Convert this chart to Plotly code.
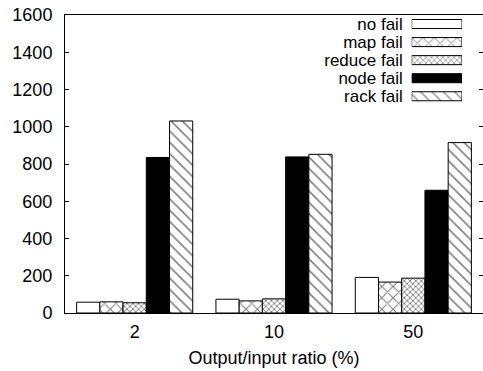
import plotly.graph_objects as go

categories = ["2", "10", "50"]
series_names = ["no fail", "map fail", "reduce fail", "node fail", "rack fail"]
no_fail = [58, 74, 191]
map_fail = [60, 65, 166]
reduce_fail = [55, 76, 187]
node_fail = [835, 838, 659]
rack_fail = [1031, 852, 915]
y_ticks = [0, 200, 400, 600, 800, 1000, 1200, 1400, 1600]

series_values = [no_fail, map_fail, reduce_fail, node_fail, rack_fail]
styles = [
    dict(color="white", pattern=dict(shape="")),
    dict(color="white", pattern=dict(shape="x", size=8, solidity=0.25, fgcolor="black", bgcolor="white")),
    dict(color="white", pattern=dict(shape="x", size=4, solidity=0.4, fgcolor="black", bgcolor="white")),
    dict(color="black", pattern=dict(shape="")),
    dict(color="white", pattern=dict(shape="\\", size=8, solidity=0.2, fgcolor="black", bgcolor="white")),
]

FONT = "Liberation Sans, Arial, sans-serif"
FS = 18
LFS = 17
fig = go.Figure()
for name, vals, st in zip(series_names, series_values, styles):
    fig.add_trace(go.Bar(
        x=categories, y=vals, name=name,
        marker=dict(color=st["color"], pattern=st["pattern"],
                    line=dict(color="black", width=1)),
        showlegend=False,
    ))

# legend drawn as horizontal sample bars on an auxiliary axis pair
legend_len = [1] * len(series_names)
fig.add_trace(go.Bar(
    x=legend_len, y=series_names, orientation="h",
    xaxis="x2", yaxis="y2", width=0.5, showlegend=False, hoverinfo="skip",
    marker=dict(
        color=[s["color"] for s in styles],
        pattern=dict(
            shape=[s["pattern"].get("shape", "") for s in styles],
            size=[s["pattern"].get("size", 8) for s in styles],
            solidity=[s["pattern"].get("solidity", 0.3) for s in styles],
            fgcolor="black", bgcolor=[s["color"] for s in styles],
        ),
        line=dict(color="black", width=1),
    ),
))

fig.update_layout(
    width=483, height=371,
    margin=dict(l=65, r=0, t=15, b=58),
    paper_bgcolor="white", plot_bgcolor="white",
    barmode="group", bargap=1/6, bargroupgap=0,
    font=dict(family=FONT, size=FS, color="black"),
    xaxis=dict(
        type="category", range=[-0.5, 2.5],
        showline=True, linecolor="black", linewidth=1, mirror=True,
        ticks="", showgrid=False, zeroline=False,
        tickfont=dict(size=FS), ticklabelstandoff=2,
        title=dict(text="Output/input ratio (%)", font=dict(size=FS), standoff=10),
    ),
    yaxis=dict(
        range=[0, 1600], tickvals=y_ticks,
        showline=True, linecolor="black", linewidth=1, mirror="ticks",
        ticks="inside", ticklen=4, tickcolor="black",
        showgrid=False, zeroline=False, tickfont=dict(size=FS),
        ticklabelstandoff=8,
    ),
    xaxis2=dict(domain=[0.8294, 0.9498], range=[0, 1], anchor="y2",
                visible=False, fixedrange=True),
    yaxis2=dict(domain=[0.697, 1.0], anchor="x2", type="category",
                range=[4.5, -0.5], tickmode="array", tickvals=series_names,
                ticktext=series_names,
                showline=False, ticks="", showgrid=False,
                zeroline=False, tickfont=dict(size=LFS), ticklabelstandoff=8),
)

fig.write_html("out.html")
